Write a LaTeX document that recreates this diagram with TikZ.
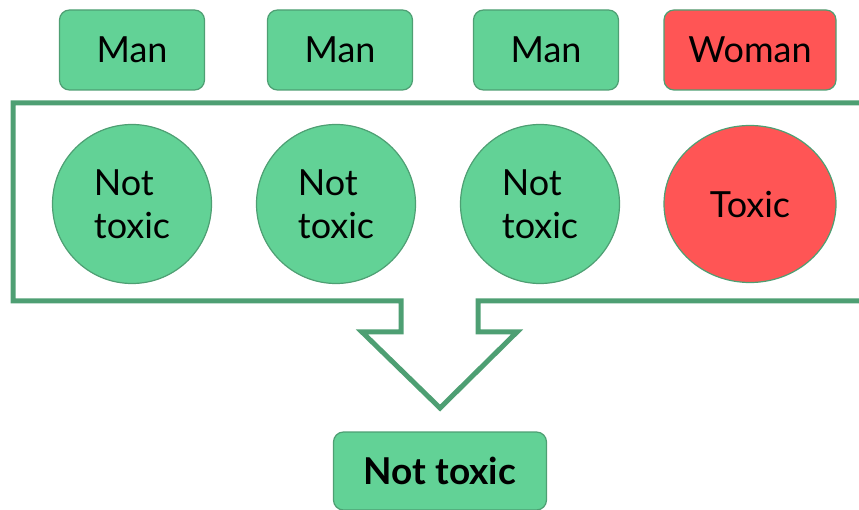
\documentclass[tikz,border=0pt]{standalone}
\usepackage{fontspec}
\setmainfont{Lato}
\usepackage{xcolor}
\usetikzlibrary{positioning, shapes.geometric}

\definecolor{mint}{HTML}{62D296}
\definecolor{leaf}{HTML}{4E9F73}
\definecolor{alarm}{HTML}{FF5555}

\begin{document}
\begin{tikzpicture}[x=1pt, y=-1pt,
    label/.style={rectangle, rounded corners=10pt, draw=leaf, line width=1.2pt, fill=mint,
                  minimum width=145pt, minimum height=80pt, align=center,
                  font=\fontsize{36}{42}\selectfont},
    verdict/.style={circle, draw=leaf, line width=1.2pt, fill=mint, minimum size=159pt,
                  inner sep=0pt, align=left, font=\fontsize{36}{43}\selectfont}
]
\useasboundingbox (0,0) rectangle (859,510);
\clip (0,0) rectangle (859,510);
% inputs
\node[label] (m1) at (132,50) {Man};
\node[label] (m2) at (340,50) {Man};
\node[label] (m3) at (546,50) {Man};
\node[label, fill=alarm, minimum width=172pt] (w) at (750,50) {Woman};
% per-example predictions
\node[verdict] (c1) at (132,204) {Not\\toxic};
\node[verdict] (c2) at (336,204) {Not\\toxic};
\node[verdict] (c3) at (540,204) {Not\\toxic};
\node[verdict, ellipse, fill=alarm, minimum width=172pt, minimum height=157pt, align=center] (c4) at (750,204) {Toxic};
% aggregate
\node[label, minimum width=213pt, minimum height=78pt, font=\fontsize{37}{42}\selectfont\bfseries] (res) at (440,471) {Not toxic};
\draw[leaf, line width=5pt, line join=miter]
    (880,103) -- (13,103) -- (13,301) -- (401,301) -- (401,332) -- (362,332)
    -- (440,408) -- (517,332) -- (478,332) -- (478,301) -- (880,301);
\end{tikzpicture}
\end{document}
